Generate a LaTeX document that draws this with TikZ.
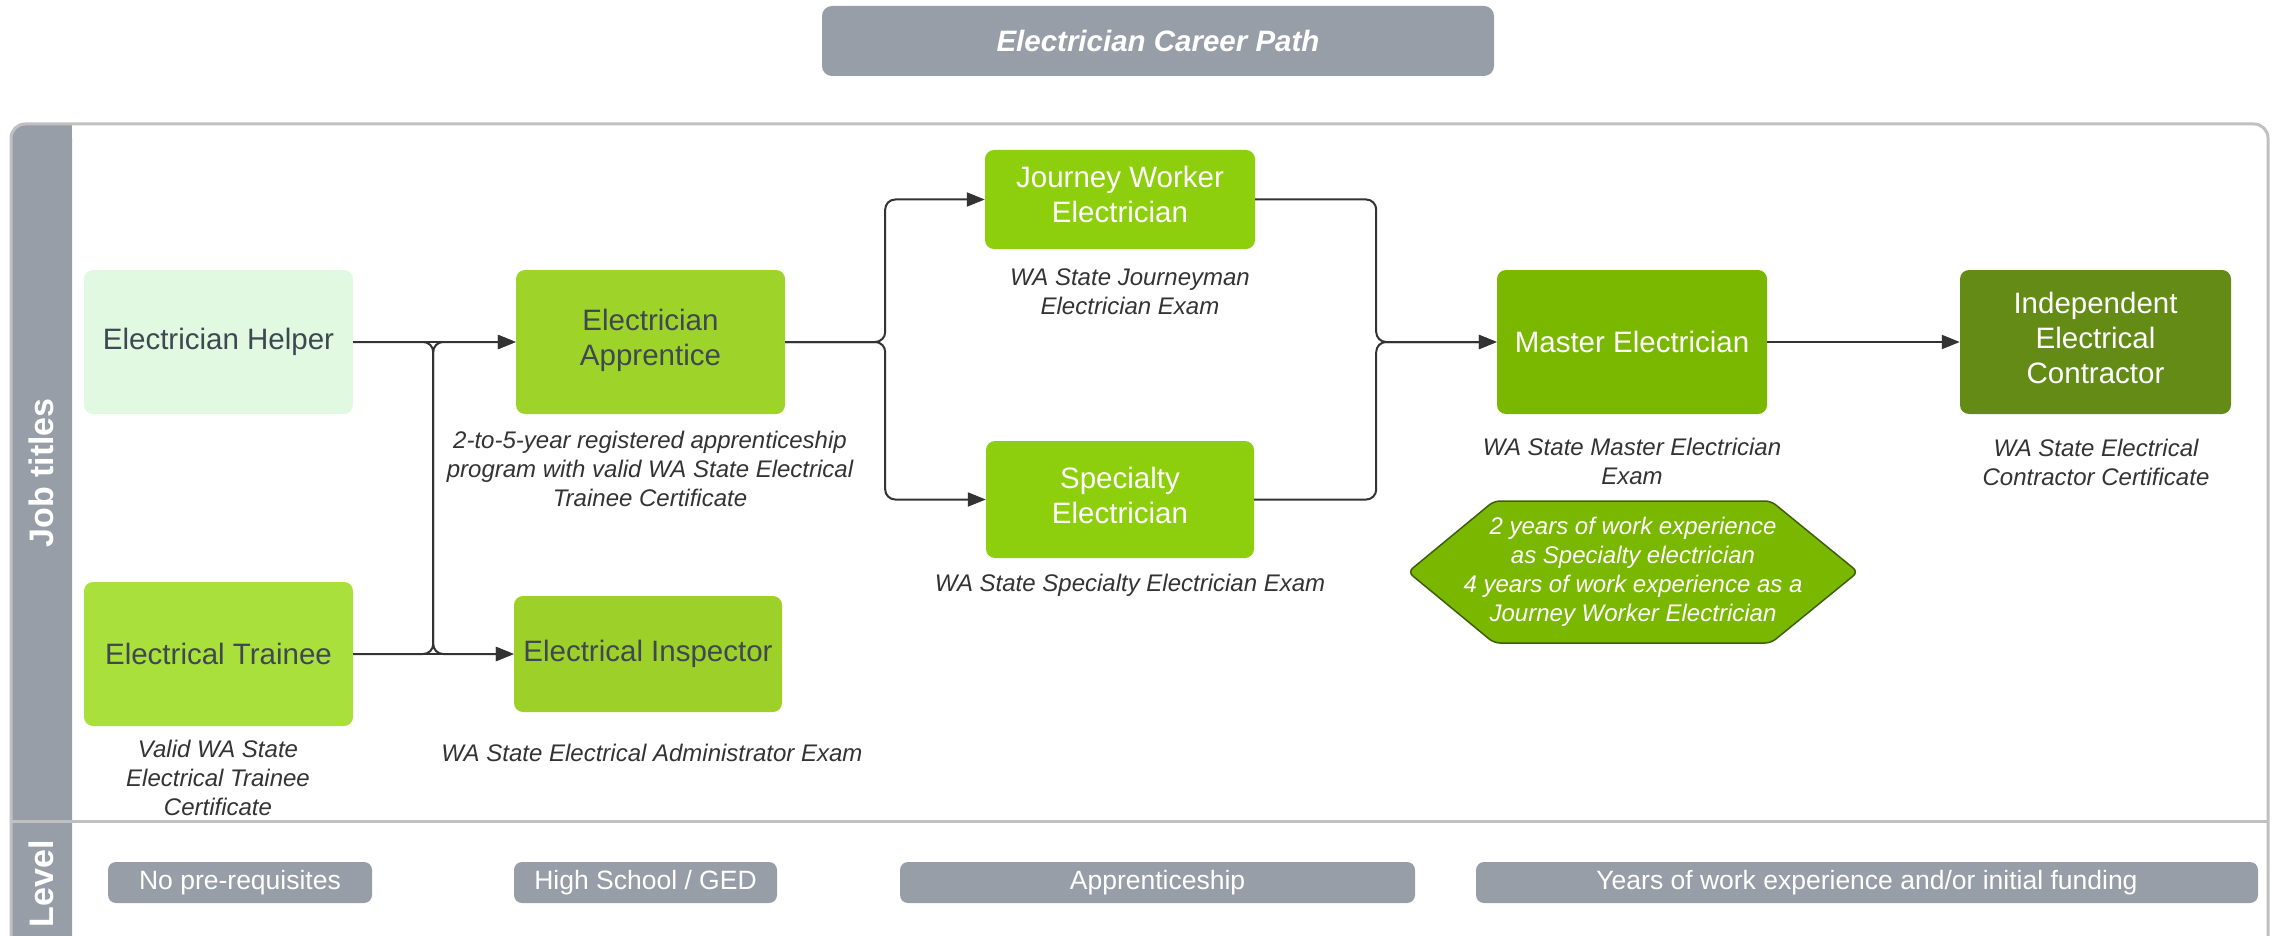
\documentclass[tikz,border=0pt]{standalone}
\usepackage{fontspec}
\setmainfont{Liberation Sans}
\usetikzlibrary{arrows.meta,calc}
\definecolor{band}{RGB}{152,158,168}
\definecolor{helperc}{RGB}{225,249,225}
\definecolor{traineec}{RGB}{169,224,59}
\definecolor{apprc}{RGB}{158,212,41}
\definecolor{inspc}{RGB}{157,209,41}
\definecolor{jwc}{RGB}{141,207,12}
\definecolor{masterc}{RGB}{122,184,0}
\definecolor{contrc}{RGB}{99,139,21}
\definecolor{hexc}{RGB}{122,183,0}
\definecolor{hexborder}{RGB}{62,95,10}
\definecolor{darktext}{RGB}{63,72,82}
\definecolor{labeltext}{RGB}{51,51,51}
\definecolor{frameline}{RGB}{192,192,192}
\definecolor{conncol}{RGB}{51,51,51}
\newcommand\mylift[1]{\raisebox{1pt}[\height][\depth]{\begin{tabular}{@{}c@{}}#1\end{tabular}}}
\begin{document}
\begin{tikzpicture}[x=1pt,y=-1pt,
  job/.style={rounded corners=9pt, align=center, inner sep=0pt,
    font=\fontsize{29.5}{35}\selectfont},
  lbl/.style={align=center, inner sep=0pt, text=labeltext,
    font=\itshape\fontsize{24}{29}\selectfont},
  lvl/.style={fill=band, rounded corners=8pt, text=white, inner sep=0pt,
    minimum height=41pt, font=\fontsize{26.5}{31}\selectfont},
  hdr/.style={rotate=90, text=white, inner sep=0pt,
    font=\bfseries\fontsize{34}{40}\selectfont},
  conn/.style={draw=conncol, line width=2pt, rounded corners=10pt,
    -{Triangle[length=18pt,width=14pt]}}
]
\useasboundingbox (0,0) rectangle (2277,936);
\clip (0,0) rectangle (2277,936);

% title
\node[fill=band, rounded corners=10pt, minimum width=672pt, minimum height=70pt,
  text=white, inner sep=0pt, font=\bfseries\itshape\fontsize{29.5}{35}\selectfont]
  (title) at (1158,41) {Electrician Career Path};

% pool frame and header band
\fill[band, rounded corners=14pt] (11,1000) -- (11,124) -- (72,124) -- (72,1000) -- cycle;
\fill[band] (40,124) rectangle (72,1000);
\draw[frameline, line width=3pt, rounded corners=14pt]
  (11,1000) -- (11,124) -- (2268,124) -- (2268,1000);
\draw[frameline, line width=3pt] (11,821.5) -- (2268,821.5);
\node[hdr] (jobhdr) at (41.5,473) {Job titles};
\node[hdr] (levelhdr) at (41.5,884) {Level};

% job nodes
\node[job, fill=helperc, text=darktext, minimum width=269pt, minimum height=144pt]
  (helper) at (218.5,342) {Electrician Helper};
\node[job, fill=traineec, text=darktext, minimum width=269pt, minimum height=144pt]
  (trainee) at (218.5,654) {Electrical Trainee};
\node[job, fill=apprc, text=darktext, minimum width=269pt, minimum height=144pt]
  (appr) at (650.5,342) {\mylift{Electrician\\Apprentice}};
\node[job, fill=inspc, text=darktext, minimum width=268pt, minimum height=116pt]
  (insp) at (648,654) {Electrical Inspector};
\node[job, fill=jwc, text=white, minimum width=270pt, minimum height=99pt]
  (jw) at (1120,199.5) {\mylift{Journey Worker\\Electrician}};
\node[job, fill=jwc, text=white, minimum width=268pt, minimum height=117pt]
  (spec) at (1120,499.5) {\mylift{Specialty\\Electrician}};
\node[job, fill=masterc, text=white, minimum width=270pt, minimum height=144pt]
  (master) at (1632,342) {Master Electrician};
\node[job, fill=contrc, text=white, minimum width=271pt, minimum height=144pt]
  (contr) at (2095.5,342) {\mylift{Independent\\Electrical\\Contractor}};

% hexagon
\fill[hexc, draw=hexborder, line width=1.5pt, rounded corners=6pt]
  (1408,572) -- (1494,501) -- (1771,501) -- (1858,572) -- (1771,643) -- (1494,643) -- cycle;
\node[align=center, inner sep=0pt, text=white, font=\itshape\fontsize{24}{29}\selectfont]
  (hex) at (1633,572) {2 years of work experience\\as Specialty electrician\\4 years of work experience as a\\Journey Worker Electrician};

% labels
\node[lbl] (lapp) at (650,469) {2-to-5-year registered apprenticeship\\program with valid WA State Electrical\\Trainee Certificate};
\node[lbl] (ljw) at (1130,291.5) {WA State Journeyman\\Electrician Exam};
\node[lbl] (lspec) at (1130,585) {WA State Specialty Electrician Exam};
\node[lbl] (lmaster) at (1632,461) {WA State Master Electrician\\Exam};
\node[lbl] (lcontr) at (2096,462) {WA State Electrical\\Contractor Certificate};
\node[lbl] (ltrainee) at (218,778) {Valid WA State\\Electrical Trainee\\Certificate};
\node[lbl] (linsp) at (652,753) {WA State Electrical Administrator Exam};

% level boxes
\node[lvl, minimum width=264pt] (lv1) at (240,882.5) {No pre-requisites};
\node[lvl, minimum width=263pt] (lv2) at (645.5,882.5) {High School / GED};
\node[lvl, minimum width=515pt] (lv3) at (1157.5,882.5) {Apprenticeship};
\node[lvl, minimum width=782pt] (lv4) at (1867,882.5) {Years of work experience and/or initial funding};

% connectors
\draw[conn] (helper.east) -- (appr.west);
\draw[conn] (trainee.east) -- (insp.west);
\draw[conn] (helper.east) -- ++(80,0) |- (insp.west);
\draw[conn] (trainee.east) -- ++(80,0) |- (appr.west);
\draw[conn] (appr.east) -- ++(100,0) |- (jw.west);
\draw[conn] (appr.east) -- ++(100,0) |- (spec.west);
\draw[conn] (jw.east) -- ++(121,0) |- (master.west);
\draw[conn] (spec.east) -- ++(122,0) |- (master.west);
\draw[conn] (master.east) -- (contr.west);
\end{tikzpicture}
\end{document}
